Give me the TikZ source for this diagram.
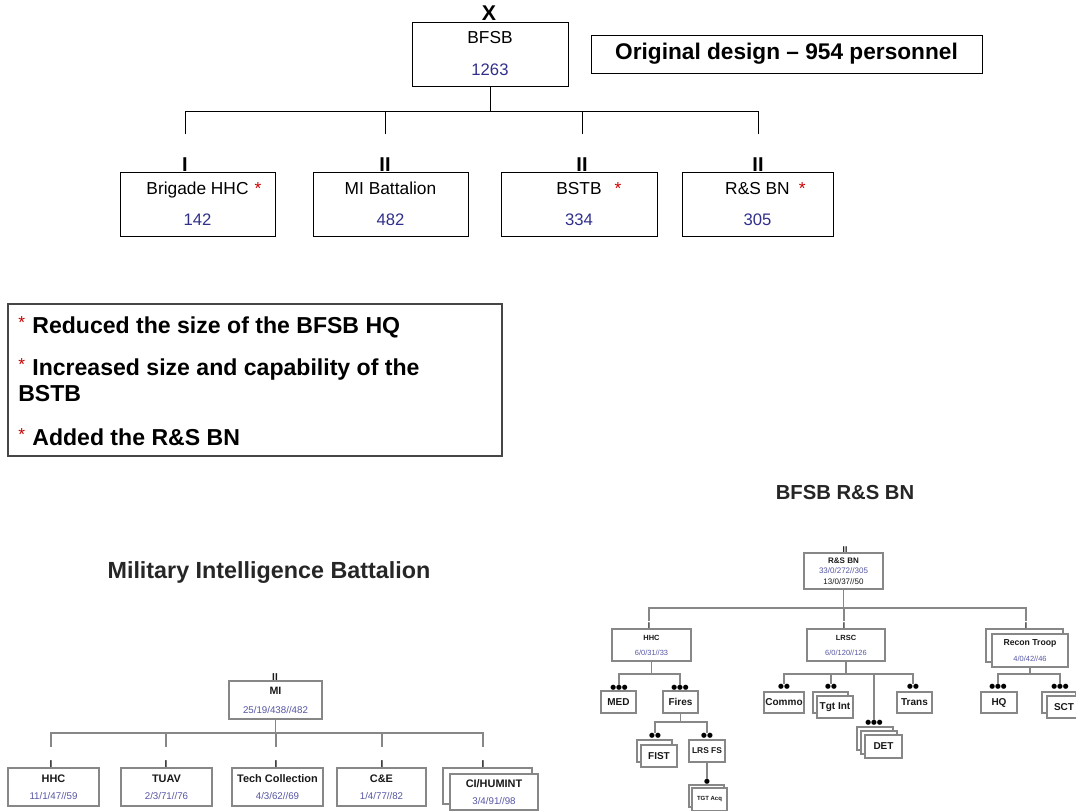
\documentclass[tikz,border=0pt]{standalone}
\usepackage{fontspec}
\setmainfont{Liberation Sans}
\newfontfamily\symfont{DejaVu Sans}
\definecolor{num}{RGB}{48,48,140}
\definecolor{numlite}{RGB}{85,85,165}
\definecolor{starred}{RGB}{204,0,0}
\definecolor{boxgray}{RGB}{135,135,135}
\definecolor{lbl}{RGB}{25,25,25}
\definecolor{titlegray}{RGB}{38,38,38}
\definecolor{notegray}{RGB}{70,70,70}
\newcommand\setfs[2]{\fontsize{#1}{#2}\selectfont}
\newcommand\nstar{\raisebox{3.5pt}{\color{starred}\mdseries\setfs{13}{13}*}\hspace{5.5pt}}
\newcommand\redstar[1]{\rlap{\hspace{#1}\textcolor{starred}{*}}}
\tikzset{
  sz/.style 2 args={minimum width=#1*0.75pt, minimum height=#2*0.75pt},
  topbox/.style={draw=black, line width=0.75pt, fill=white, inner sep=0pt, align=center},
  topline/.style={draw=black, line width=0.75pt},
  tmark/.style={inner sep=0pt, anchor=south, font=\bfseries\setfs{15}{15}},
  gbox/.style={draw=boxgray, line width=0.9pt, fill=white, inner sep=0pt, align=center, text=lbl},
  gline/.style={draw=boxgray, line width=0.9pt},
  gmark/.style={inner sep=0pt, anchor=south, text=lbl, font=\bfseries\setfs{7.5}{7.5}},
  smark/.style={inner sep=0pt, anchor=south, text=lbl, font=\bfseries\setfs{6.3}{6.3}},
  dots/.style={inner sep=0pt, text=black, font=\symfont\setfs{5}{5}},
  notetext/.style={inner sep=0pt, anchor=base west, font=\bfseries\setfs{17.3}{20}},
  mibox/.style={gbox, font=\bfseries\setfs{8.2}{12.75}},
  rsbox/.style={gbox, font=\bfseries\setfs{5.6}{11.25}},
  leaf/.style={gbox, font=\bfseries\setfs{7.5}{7.5}},
}
\begin{document}
\begin{tikzpicture}[x=0.75pt,y=-0.75pt]
\path[use as bounding box] (0,0) rectangle (1076,811);
\clip (0,0) rectangle (1076,811);

% ---------- brigade level ----------
\node[inner sep=0pt, font=\bfseries\setfs{16}{16}] (ech) at (489,13) {X};
\node[topbox, sz={156}{64}, font=\setfs{13}{24}] (bfsb) at (490,54)
  {BFSB\\{\color{num}\setfs{12.5}{24}1263}};
\node[draw=black, line width=0.75pt, sz={391}{38}, inner sep=0pt,
      font=\bfseries\setfs{17}{17}] (orig) at (786.5,54)
  {Original design -- 954 personnel};

\node[tmark] (m1) at (185,172) {I};
\node[tmark] (m2) at (385,172) {II};
\node[tmark] (m3) at (582,172) {II};
\node[tmark] (m4) at (758,172) {II};

\node[topbox, sz={155}{64}, font=\setfs{13}{23.25}] (hhc) at (197.5,204)
  {Brigade HHC\redstar{4.5pt}\\{\color{num}\setfs{12.5}{23.25}142}};
\node[topbox, sz={155}{64}, font=\setfs{13}{23.25}] (mib) at (390.5,204)
  {MI Battalion\\{\color{num}\setfs{12.5}{23.25}482}};
\node[topbox, sz={156}{64}, font=\setfs{13}{23.25}] (bstb) at (579,204)
  {BSTB\redstar{9.75pt}\\{\color{num}\setfs{12.5}{23.25}334}};
\node[topbox, sz={151}{64}, font=\setfs{13}{23.25}] (rsbnt) at (757.5,204)
  {R\&S BN\redstar{6.75pt}\\{\color{num}\setfs{12.5}{23.25}305}};

\coordinate (tbus) at (0,111);
\draw[topline] (bfsb.south) -- (bfsb.south |- tbus);
\draw[topline, shorten <=18pt, shorten >=18pt] (m1.north) |- (tbus -| m4.north) -- (m4.north);
\draw[topline, shorten >=18pt] (tbus -| m2.north) -- (m2.north);
\draw[topline, shorten >=18pt] (tbus -| m3.north) -- (m3.north);

% ---------- notes ----------
\node[draw=notegray, line width=0.9pt, sz={494}{152}, inner sep=0pt] (notes) at (255,380) {};
\node[notetext] (n1) at (18,333) {\nstar Reduced the size of the BFSB HQ};
\node[notetext] (n2) at (18,375) {\nstar Increased size and capability of the};
\node[notetext] (n3) at (18,401) {BSTB};
\node[notetext] (n4) at (18,445) {\nstar Added the R\&S BN};

% ---------- MI battalion ----------
\node[inner sep=0pt, text=titlegray, font=\bfseries\setfs{17.5}{17.5}] (mititle) at (269,573)
  {Military Intelligence Battalion};
\node[gbox, sz={93}{38}, font=\bfseries\setfs{8}{14.25}] (mi) at (275.5,700)
  {MI\\{\mdseries\color{numlite}\setfs{7.3}{14.25}25/19/438//482}};
\node[gmark] (mim) at (275,681) {II};

\node[gmark] (k1) at (51,768) {I};
\node[gmark] (k2) at (166,768) {I};
\node[gmark] (k3) at (276,768) {I};
\node[gmark] (k4) at (382,768) {I};
\node[gmark] (k5) at (483,768) {I};

\node[mibox, sz={91}{38}] (mhhc) at (53.5,787)
  {HHC\\{\mdseries\color{numlite}\setfs{7.3}{12.75}11/1/47//59}};
\node[mibox, sz={91}{38}] (tuav) at (166.5,787)
  {TUAV\\{\mdseries\color{numlite}\setfs{7.3}{12.75}2/3/71//76}};
\node[mibox, sz={91}{38}] (tech) at (277.5,787)
  {Tech Collection\\{\mdseries\color{numlite}\setfs{7.3}{12.75}4/3/62//69}};
\node[mibox, sz={89}{38}] (cne) at (381.5,787)
  {C\&E\\{\mdseries\color{numlite}\setfs{7.3}{12.75}1/4/77//82}};
\node[gbox, sz={89}{36}] (cib) at (487.5,786) {};
\node[mibox, sz={88}{36}] (ci) at (494,792)
  {CI/HUMINT\\{\mdseries\color{numlite}\setfs{7.3}{12.75}3/4/91//98}};

\coordinate (mibus) at (0,733);
\draw[gline] (mi.south) -- (mi.south |- mibus);
\draw[gline, shorten <=10.5pt, shorten >=10.5pt] (k1.north) |- (mibus -| k5.north) -- (k5.north);
\draw[gline, shorten >=10.5pt] (mibus -| k2.north) -- (k2.north);
\draw[gline, shorten >=10.5pt] (mibus -| k3.north) -- (k3.north);
\draw[gline, shorten >=10.5pt] (mibus -| k4.north) -- (k4.north);

% ---------- R&S battalion ----------
\node[inner sep=0pt, text=titlegray, font=\bfseries\setfs{15.2}{15.2}] (rstitle) at (845,493)
  {BFSB R\&S BN};
\node[gbox, sz={79}{36}, font=\bfseries\setfs{6}{7.9}] (rsbn) at (843.5,571)
  {R\&S BN\\{\mdseries\color{numlite}33/0/272//305}\\{\mdseries 13/0/37//50}};
\node[smark] (rsm) at (845,553) {II};

\node[smark] (r1) at (649,629) {I};
\node[smark] (r2) at (844,629) {I};
\node[smark] (r3) at (1026,629) {I};

\node[rsbox, sz={79}{32}] (rhhc) at (651.5,645)
  {HHC\\{\mdseries\color{numlite}6/0/31//33}};
\node[rsbox, sz={78}{32}] (lrsc) at (846,645)
  {LRSC\\{\mdseries\color{numlite}6/0/120//126}};
\node[gbox, sz={77}{33}] (reconb) at (1024.5,645.5) {};
\node[gbox, sz={76}{33}, font=\bfseries\setfs{6.5}{12}] (recon) at (1030,650.5)
  {Recon Troop\\{\mdseries\color{numlite}\setfs{5.6}{12}4/0/42//46}};

\coordinate (rsbus) at (0,608);
\draw[gline] (rsbn.south) -- (rsbn.south |- rsbus);
\draw[gline, shorten <=1.5pt, shorten >=1.5pt] (r1.north) |- (rsbus -| r3.north) -- (r3.north);
\draw[gline, shorten >=1.5pt] (rsbus -| r2.north) -- (r2.north);

% HHC branch
\node[dots] (dmed) at (619,688) {●●●};
\node[dots] (dfires) at (680,688) {●●●};
\node[leaf, sz={35}{22}] (med) at (618.5,702) {MED};
\node[leaf, sz={35}{22}] (fires) at (680.5,702) {Fires};
\coordinate (hbus) at (0,674);
\draw[gline] (rhhc.south) -- (rhhc.south |- hbus);
\draw[gline] (dmed.north) |- (hbus -| dfires.north) -- (dfires.north);

% Fires branch
\node[dots] (dfist) at (655,736) {●●};
\node[dots] (dlrs) at (707,736) {●●};
\node[gbox, sz={35}{22}] (fistb) at (654.5,751) {};
\node[leaf, sz={36}{22}] (fist) at (659,756) {FIST};
\node[gbox, sz={36}{22}, font=\bfseries\setfs{6.3}{6.3}] (lrsfs) at (707,751) {LRS FS};
\coordinate (fbus) at (0,722);
\draw[gline] (fires.south) -- (fires.south |- fbus);
\draw[gline] (dfist.north) |- (fbus -| dlrs.north) -- (dlrs.north);

\node[dots] (dtgt) at (707,782) {●};
\node[gbox, sz={35}{22}] (tgtb) at (706.5,796) {};
\node[gbox, sz={35}{23}, font=\bfseries\setfs{4.5}{4.5}] (tgt) at (709.5,799.5) {TGT Acq};
\draw[gline] (lrsfs.south) -- (dtgt.north);

% LRSC branch
\node[dots] (dcom) at (784,687) {●●};
\node[dots] (dtgi) at (831,687) {●●};
\node[dots] (ddet) at (874,723) {●●●};
\node[dots] (dtrn) at (913,687) {●●};
\node[leaf, sz={40}{21}] (commo) at (784,702.5) {Commo};
\node[gbox, sz={35}{21}] (tgtib) at (830.5,702.5) {};
\node[leaf, sz={36}{22}] (tgti) at (835,707) {Tgt Int};
\node[gbox, sz={36}{23}] (det1) at (875,738.5) {};
\node[gbox, sz={36}{23}] (det2) at (879,742.5) {};
\node[leaf, sz={37}{23}] (det) at (883.5,746.5) {DET};
\node[leaf, sz={35}{21}] (trans) at (914.5,702.5) {Trans};
\coordinate (lbus) at (0,674);
\draw[gline] (lrsc.south) -- (lrsc.south |- lbus);
\draw[gline] (dcom.north) |- (lbus -| dtrn.north) -- (dtrn.north);
\draw[gline] (lbus -| dtgi.north) -- (dtgi.north);
\draw[gline] (lbus -| ddet.north) -- (ddet.north);

% Recon Troop branch
\node[dots] (dhq) at (998,687) {●●●};
\node[dots] (dsct) at (1060,687) {●●●};
\node[leaf, sz={36}{21}] (hq) at (999,702.5) {HQ};
\node[gbox, sz={34}{21}] (sctb) at (1059,702.5) {};
\node[leaf, sz={34}{22}] (sct) at (1064,707) {SCT};
\coordinate (rbus) at (0,674);
\draw[gline] (recon.south) -- (recon.south |- rbus);
\draw[gline] (dhq.north) |- (rbus -| dsct.north) -- (dsct.north);
\end{tikzpicture}
\end{document}
